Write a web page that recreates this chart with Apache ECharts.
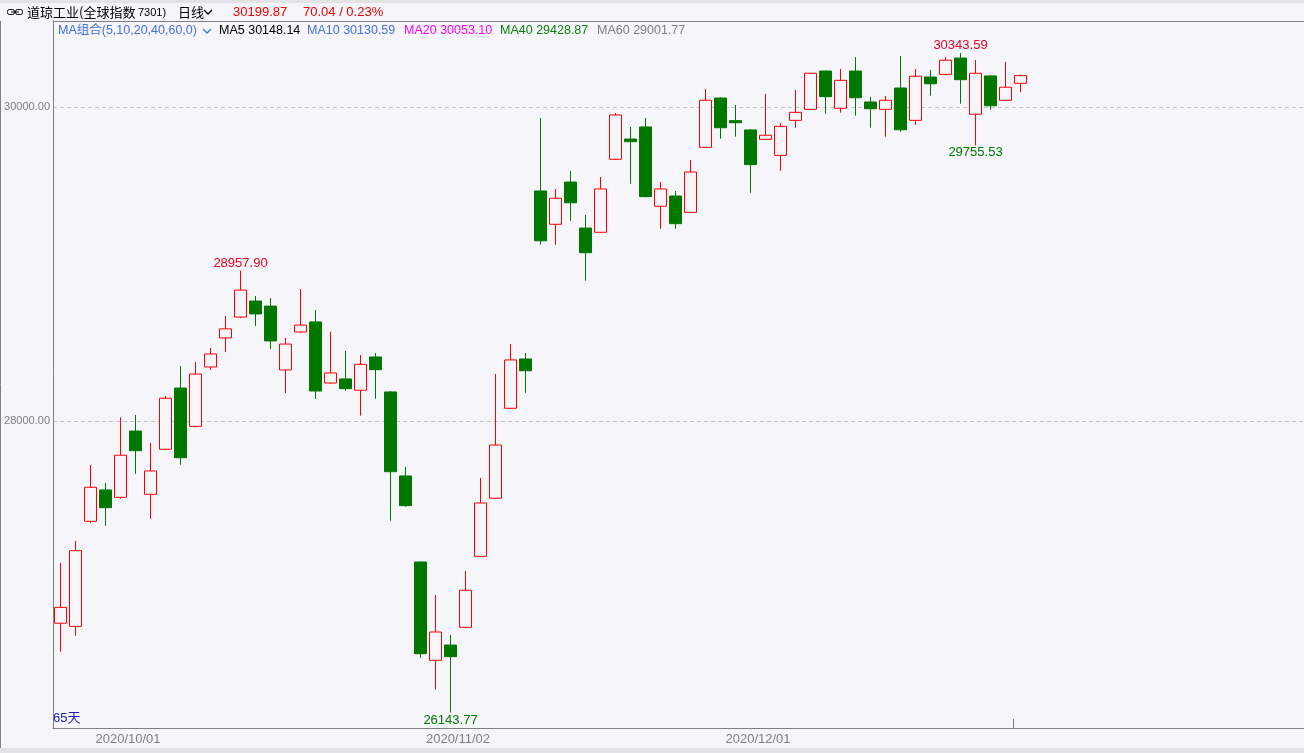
<!DOCTYPE html>
<html><head><meta charset="utf-8">
<script src="https://cdn.jsdelivr.net/npm/echarts@6/dist/echarts.min.js"></script>
<style>html,body{margin:0;padding:0;background:#f5f5fa;overflow:hidden}#c{width:1304px;height:753px;}</style>
</head><body><div id="c"></div>
<script>
// ---------- data ----------
const dates = [
 '2020/09/24','2020/09/25','2020/09/28','2020/09/29','2020/09/30',
 '2020/10/01','2020/10/02','2020/10/05','2020/10/06','2020/10/07','2020/10/08','2020/10/09',
 '2020/10/12','2020/10/13','2020/10/14','2020/10/15','2020/10/16','2020/10/19','2020/10/20',
 '2020/10/21','2020/10/22','2020/10/23','2020/10/26','2020/10/27','2020/10/28','2020/10/29','2020/10/30',
 '2020/11/02','2020/11/03','2020/11/04','2020/11/05','2020/11/06','2020/11/09','2020/11/10',
 '2020/11/11','2020/11/12','2020/11/13','2020/11/16','2020/11/17','2020/11/18','2020/11/19',
 '2020/11/20','2020/11/23','2020/11/24','2020/11/25','2020/11/27','2020/11/30',
 '2020/12/01','2020/12/02','2020/12/03','2020/12/04','2020/12/07','2020/12/08','2020/12/09',
 '2020/12/10','2020/12/11','2020/12/14','2020/12/15','2020/12/16','2020/12/17','2020/12/18',
 '2020/12/21','2020/12/22','2020/12/23','2020/12/24'
];
const opens = [
 26712,26692,27361,27561,27514,27936,27533,27820,28210,27966,28344,28529,
 28662,28764,28732,28325,28567,28631,28242,28268,28196,28408,28185,27650,27102,26476,26573,
 26686,27138,27508,28081,28395,29465,29253,29522,29229,29202,29667,29796,29873,29368,
 29433,29329,29743,30057,29913,29854,
 29794,29692,29915,29985,30229,29992,30229,30032,29985,30121,29915,30191,30208,30312,
 29954,30198,30043,30151
];
const closes = [
 26813,27174,27578,27448,27782,27811,27682,28145,27766,28299,28427,28587,
 28834,28682,28510,28490,28611,28191,28306,28206,28361,28327,27677,27461,26518,26656,26499,
 26922,27478,27847,28389,28320,29148,29419,29390,29072,29478,29949,29779,29429,29478,
 29257,29586,30043,29868,29900,29633,
 29820,29877,29966,30215,30066,30170,30059,29989,30043,29855,30196,30148,30298,30174,
 30215,30008,30126,30199.87
];
const lows = [
 26531,26632,27350,27333,27505,27664,27378,27815,27722,27960,28325,28439,
 28655,28605,28459,28178,28561,28140,28236,28193,28034,28142,27365,27454,26492,26289,26143.77,
 26680,27133,27505,28078,28180,29123,29123,29276,28894,29198,29663,29512,29425,29225,
 29225,29325,29740,29798,29811,29454,
 29790,29594,29868,29982,29957,29964,29945,29868,29811,29843,29887,30072,30205,30021,
 29755.53,29983,30040,30094
];
const highs = [
 27096,27236,27720,27605,28024,28038,27860,28159,28350,28376,28465,28669,
 28957.90,28796,28783,28529,28841,28707,28569,28446,28420,28433,28190,27707,27105,26892,26637,
 27045,27637,28299,28490,28433,29930,29478,29592,29312,29554,29962,29873,29930,29522,
 29465,29662,30115,30062,30013,29860,
 30083,29898,30108,30218,30232,30242,30318,30064,30070,30325,30242,30236,30318,30343.59,
 30299,30202,30287,30206
];
const yTickValues = [28000, 30000];
const dateTickLabels = ['2020/10/01','2020/11/02','2020/12/01'];
const extremes = [
 {idx:12, kind:'high'}, {idx:26, kind:'low'}, {idx:60, kind:'high'}, {idx:61, kind:'low'}
];
const titleName = '道琼工业(全球指数';
const titleCode = '7301)';
const titlePeriod = '日线';
const titleLast = '30199.87';
const titleChange = '70.04 / 0.23%';
const maGroupLabel = 'MA组合(5,10,20,40,60,0)';
const maNames = ['MA5','MA10','MA20','MA40','MA60'];
const maValues = ['30148.14','30130.59','30053.10','29428.87','29001.77'];
const dayCountSuffix = '天';

// ---------- styles / layout ----------
const BG = '#f5f5fa';
const UP = '#ff0000';
const DOWN = '#007800';
const LATIN = '"Liberation Sans", Arial, "Noto Sans CJK SC", sans-serif';
const CJK = '"Noto Sans CJK SC", "Liberation Sans", sans-serif';
const maColors = ['#000000','#4670dc','#ff00ff','#0a800a','#808080'];
const maX = [219, 307, 404, 500, 597];
const padCount = 19;

const categories = dates.concat(Array.from({length: padCount}, (_, i) => 'pad' + i));
const candleData = dates.map((d, i) => [opens[i], closes[i], lows[i], highs[i]]);

const chart = echarts.init(document.getElementById('c'), null, {renderer: 'canvas'});

const graphics = [
  {type:'rect', shape:{x:0,y:0,width:1304,height:3}, style:{fill:'#e2e2e7'}, silent:true},
  {type:'rect', shape:{x:0,y:748,width:1304,height:5}, style:{fill:'#e2e2e7'}, silent:true},
  {type:'line', shape:{x1:0.5,y1:21,x2:0.5,y2:748}, style:{stroke:'#808080', lineWidth:1}, silent:true},
  // link icon
  {type:'rect', shape:{x:7.5,y:9.5,width:7,height:5,r:2}, style:{fill:'none', stroke:'#000', lineWidth:1}},
  {type:'rect', shape:{x:15.5,y:9.5,width:7,height:5,r:2}, style:{fill:'none', stroke:'#000', lineWidth:1}},
  {type:'line', shape:{x1:11,y1:12,x2:19,y2:12}, style:{stroke:'#000', lineWidth:1}},
  {type:'text', x:27, y:12.5, style:{text:titleName, fill:'#000', font:'13px ' + CJK, verticalAlign:'middle'}},
  {type:'text', x:138, y:13, style:{text:titleCode, fill:'#000', font:'11px ' + LATIN, verticalAlign:'middle'}},
  {type:'text', x:178, y:12.5, style:{text:titlePeriod, fill:'#000', font:'13px ' + CJK, verticalAlign:'middle'}},
  {type:'polyline', shape:{points:[[204,10],[208,14],[212,10]]}, style:{stroke:'#000', lineWidth:1.3, fill:'none'}},
  {type:'text', x:233, y:12.5, style:{text:titleLast, fill:'#f00000', font:'13px ' + LATIN, verticalAlign:'middle'}},
  {type:'text', x:303, y:12.5, style:{text:titleChange, fill:'#f00000', font:'13px ' + LATIN, verticalAlign:'middle'}},
  {type:'text', x:58, y:31, style:{text:maGroupLabel, fill:'#4670dc', font:'12.5px ' + LATIN, verticalAlign:'middle'}},
  {type:'polyline', shape:{points:[[203,29],[207,33],[211,29]]}, style:{stroke:'#4670dc', lineWidth:1.3, fill:'none'}}
];
maNames.forEach((n, i) => {
  graphics.push({type:'text', x:maX[i], y:30.5,
    style:{text:n + ' ' + maValues[i], fill:maColors[i], font:'12.5px ' + LATIN, verticalAlign:'middle'}});
});
graphics.push({type:'text', x:53, y:718, style:{text: dates.length + dayCountSuffix, fill:'#2020b0', font:'13px ' + LATIN, verticalAlign:'middle'}});

const option = {
  animation: false,
  backgroundColor: BG,
  grid: {left:53, top:21, width:1260, height:707, show:false, containLabel:false, outerBoundsMode:'none'},
  xAxis: [{
    type:'category', data:categories, boundaryGap:true,
    axisLine:{show:true, lineStyle:{color:'#808080', width:1}},
    axisTick:{show:false},
    axisLabel:{
      interval:(i, v) => dateTickLabels.includes(v),
      color:'#808080', fontSize:13, fontFamily:LATIN, margin:5, padding:[0,15,0,0],
      formatter:(v) => dateTickLabels.includes(v) ? v : ''
    },
    splitLine:{show:false}
  }, {
    type:'category', data:categories, boundaryGap:true, position:'top',
    axisLine:{show:true, lineStyle:{color:'#808080', width:1}},
    axisTick:{show:false}, axisLabel:{show:false}, splitLine:{show:false}
  }],
  yAxis: {
    type:'value', min:26044.6, max:30547.8, scale:true,
    axisLine:{show:true, lineStyle:{color:'#808080', width:1}},
    axisTick:{show:false, customValues:yTickValues},
    axisLabel:{customValues:yTickValues, formatter:(v) => v.toFixed(2), color:'#808080', fontSize:11, fontFamily:LATIN, margin:3},
    splitLine:{show:true, lineStyle:{color:'#c4c4c8', type:[4,3], width:1}}
  },
  series: [{
    type:'candlestick', data:candleData, barWidth:12,
    itemStyle:{color:BG, color0:DOWN, borderColor:UP, borderColor0:DOWN, borderWidth:1},
    emphasis:{disabled:true},
    markPoint:{
      symbol:'rect', symbolSize:0.01, silent:true, animation:false,
      itemStyle:{color:'rgba(0,0,0,0)'},
      data: extremes.map(e => {
        const hi = e.kind === 'high';
        const v = hi ? highs[e.idx] : lows[e.idx];
        return {
          coord:[dates[e.idx], v], value:v,
          label:{show:true, position: hi ? 'top' : 'bottom', distance:1,
            color: hi ? '#f00020' : '#007800', fontSize:13, fontFamily:LATIN,
            formatter:(p) => Number(p.value).toFixed(2)}
        };
      })
    }
  }],
  graphic: graphics
};
chart.setOption(option);

// small marker tick at the start of the latest session, placed via the axis scale
const lastX = chart.convertToPixel({xAxisIndex:0}, dates[dates.length - 1]);
const half = chart.getModel().getComponent('xAxis', 0).axis.getBandWidth() / 2;
const tx = Math.round(lastX - half) + 0.5;
chart.setOption({graphic: graphics.concat([
  {type:'line', shape:{x1:tx, y1:719, x2:tx, y2:728}, style:{stroke:'#808080', lineWidth:1}, silent:true}
])});
</script></body></html>
